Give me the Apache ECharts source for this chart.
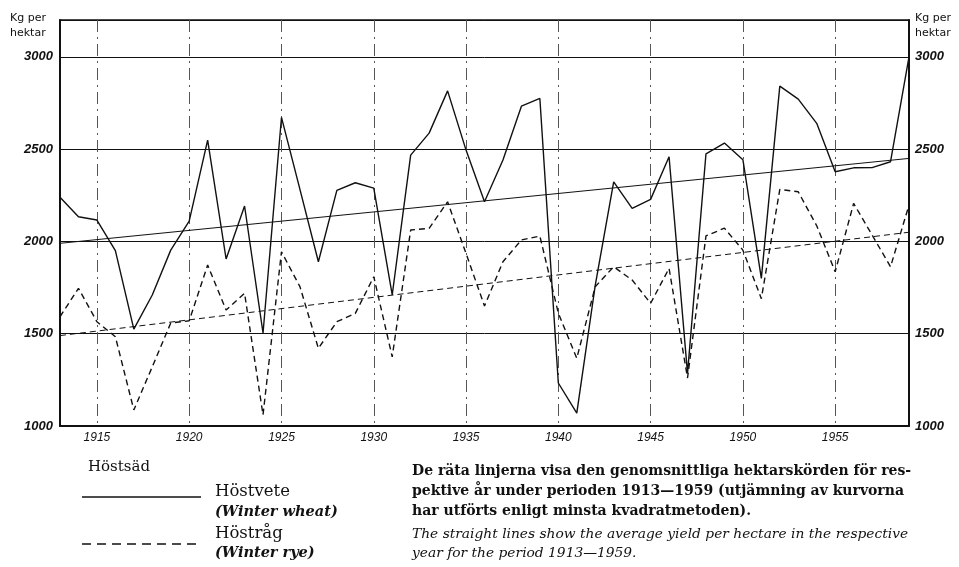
<!DOCTYPE html>
<html>
<head>
<meta charset="utf-8">
<script src="https://cdn.jsdelivr.net/npm/echarts@6/dist/echarts.min.js"></script>
<style>
html,body{margin:0;padding:0;background:#fff;}
#chart{width:959px;height:567px;}
</style>
</head>
<body>
<div id="chart"></div>
<script>
// years 1913-1959
const years = ['1913','1914','1915','1916','1917','1918','1919','1920','1921','1922',
    '1923','1924','1925','1926','1927','1928','1929','1930','1931','1932',
    '1933','1934','1935','1936','1937','1938','1939','1940','1941','1942',
    '1943','1944','1945','1946','1947','1948','1949','1950','1951','1952',
    '1953','1954','1955','1956','1957','1958','1959'];

// Höstvete (winter wheat), kg per hektar
const wheat = [2240,2134,2116,1950,1525,1710,1953,2110,2549,1905,
    2192,1504,2672,2282,1890,2277,2318,2289,1710,2468,
    2587,2816,2495,2215,2441,2733,2775,1233,1070,1762,
    2323,2179,2228,2459,1285,2475,2533,2443,1800,2842,
    2771,2640,2378,2399,2400,2432,3000];

// Höstråg (winter rye), kg per hektar
const rye = [1592,1746,1565,1484,1087,1321,1558,1570,1872,1628,
    1719,1060,1944,1755,1421,1565,1610,1809,1375,2062,
    2071,2215,1935,1650,1890,2008,2029,1612,1367,1755,
    1863,1791,1665,1854,1260,2030,2072,1953,1690,2282,
    2269,2085,1836,2206,2035,1863,2197];

// least squares lines, end points 1913 and 1959
const trendYears = ['1913','1959'];
const wheatTrend = [1990, 2450];
const ryeTrend = [1490, 2050];

const yTicks = [1000,1500,2000,2500,3000];

const ink = '#111';
const serif = '"DejaVu Serif"';
const chart = echarts.init(document.getElementById('chart'));

const every5 = (i, v) => Number(v) % 5 === 0;

const yLabel = {
    color:ink,
    fontFamily:'Liberation Sans',
    fontStyle:'italic',
    fontWeight:'bold',
    fontSize:13,
    formatter:v => yTicks.includes(v) ? String(v) : ''
};

const option = {
    backgroundColor:'#fff',
    animation:false,
    grid:{
        left:60, right:50, top:20, bottom:141,
        show:true, borderColor:ink, borderWidth:1.5
    },
    xAxis:{
        type:'category',
        data:years,
        boundaryGap:false,
        axisLine:{show:true, lineStyle:{color:ink, width:2}},
        axisTick:{show:false},
        axisLabel:{
            interval:every5,
            color:ink,
            fontFamily:'Liberation Sans',
            fontStyle:'italic',
            fontSize:12,
            margin:6
        },
        splitLine:{
            show:true,
            interval:every5,
            lineStyle:{color:'#555', width:1, type:[12,5,2,5]}
        }
    },
    yAxis:[{
        type:'value',
        min:1000, max:3200, interval:500,
        axisLine:{show:true, lineStyle:{color:ink, width:2}},
        axisTick:{show:false},
        axisLabel:Object.assign({margin:7}, yLabel),
        splitLine:{show:true, lineStyle:{color:ink, width:1}}
    },{
        type:'value',
        position:'right',
        min:1000, max:3200, interval:500,
        axisLine:{show:true, lineStyle:{color:ink, width:2}},
        axisTick:{show:false},
        axisLabel:Object.assign({margin:6}, yLabel),
        splitLine:{show:false}
    }],
    series:[
        {
            name:'Höstvete',
            type:'line',
            data:wheat,
            symbol:'none',
            lineStyle:{color:ink, width:1.4}
        },
        {
            name:'Höstråg',
            type:'line',
            data:rye,
            symbol:'none',
            lineStyle:{color:ink, width:1.4, type:[6,4]}
        },
        {
            name:'Höstvete trend',
            type:'line',
            data:trendYears.map((y,i) => [y, wheatTrend[i]]),
            symbol:'none',
            lineStyle:{color:ink, width:1}
        },
        {
            name:'Höstråg trend',
            type:'line',
            data:trendYears.map((y,i) => [y, ryeTrend[i]]),
            symbol:'none',
            lineStyle:{color:ink, width:1, type:[6,4]}
        }
    ],
    graphic:[
        // unit labels
        {type:'text', left:10, top:11, style:{text:'Kg per\nhektar', font:'11px "DejaVu Sans"', fill:ink, lineHeight:15}},
        {type:'text', left:915, top:11, style:{text:'Kg per\nhektar', font:'11px "DejaVu Sans"', fill:ink, lineHeight:15}},

        // legend
        {type:'text', x:88, y:467, style:{text:'Höstsäd', font:'15px ' + serif, fill:ink, verticalAlign:'middle'}},
        {type:'line', shape:{x1:82, y1:497, x2:201, y2:497}, style:{stroke:ink, lineWidth:1.4}},
        {type:'text', x:215, y:492, style:{text:'Höstvete', font:'16.5px ' + serif, fill:ink, verticalAlign:'middle'}},
        {type:'text', x:215, y:512, style:{text:'(Winter wheat)', font:'italic bold 14.5px ' + serif, fill:ink, verticalAlign:'middle'}},
        {type:'line', shape:{x1:82, y1:544, x2:201, y2:544}, style:{stroke:ink, lineWidth:1.4, lineDash:[9,6]}},
        {type:'text', x:215, y:534, style:{text:'Höstråg', font:'16.5px ' + serif, fill:ink, verticalAlign:'middle'}},
        {type:'text', x:215, y:553, style:{text:'(Winter rye)', font:'italic bold 14.5px ' + serif, fill:ink, verticalAlign:'middle'}},

        // note
        {type:'text', x:412, y:471, style:{text:'De räta linjerna visa den genomsnittliga hektarskörden för res-', font:'bold 14px ' + serif, fill:ink, verticalAlign:'middle'}},
        {type:'text', x:412, y:491, style:{text:'pektive år under perioden 1913—1959 (utjämning av kurvorna', font:'bold 14px ' + serif, fill:ink, verticalAlign:'middle'}},
        {type:'text', x:412, y:511, style:{text:'har utförts enligt minsta kvadratmetoden).', font:'bold 14px ' + serif, fill:ink, verticalAlign:'middle'}},
        {type:'text', x:412, y:534, style:{text:'The straight lines show the average yield per hectare in the respective', font:'italic 13.8px ' + serif, fill:ink, verticalAlign:'middle'}},
        {type:'text', x:412, y:553, style:{text:'year for the period 1913—1959.', font:'italic 13.8px ' + serif, fill:ink, verticalAlign:'middle'}}
    ]
};

chart.setOption(option);
</script>
</body>
</html>
